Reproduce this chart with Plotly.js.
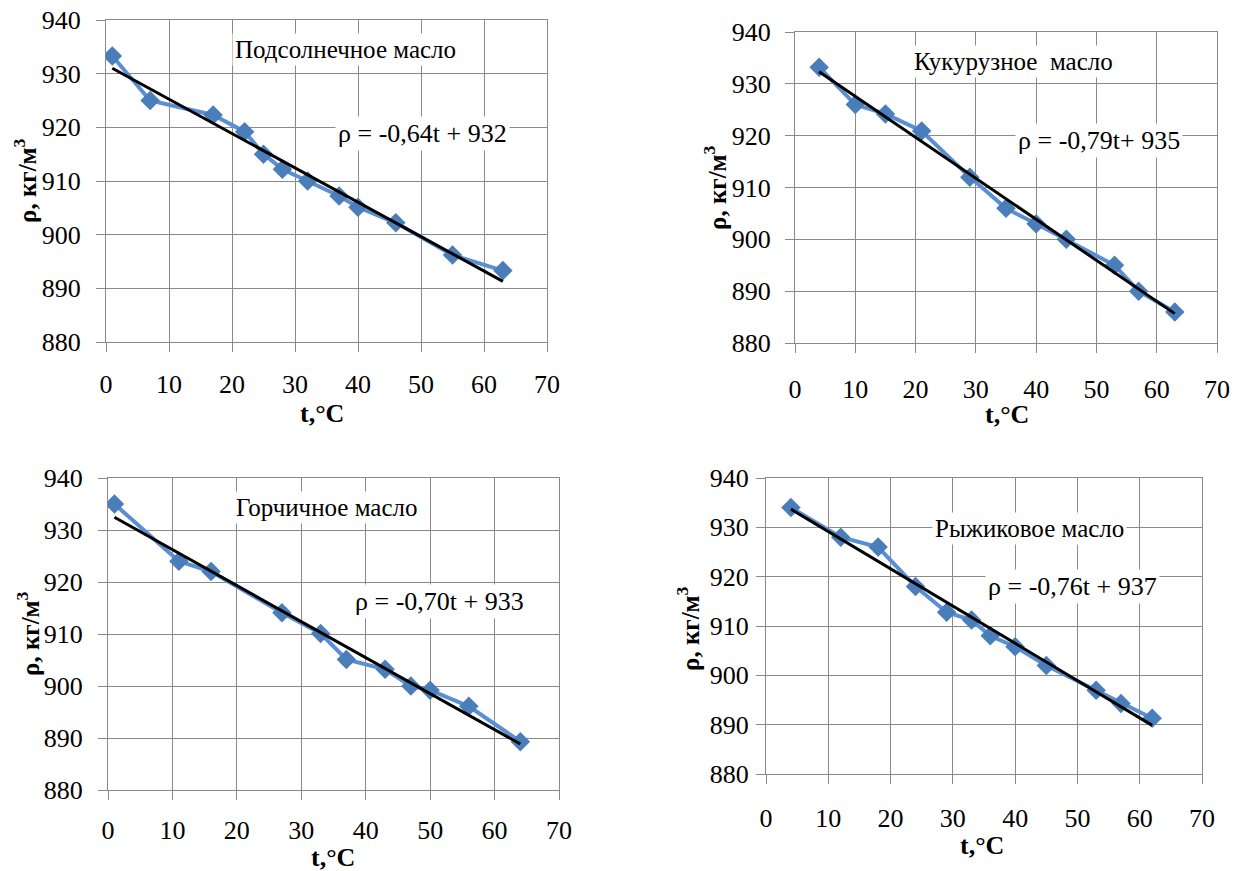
<!DOCTYPE html>
<html>
<head>
<meta charset="utf-8">
<script src="https://cdn.plot.ly/plotly-3.0.1.min.js"></script>
<style>html,body{margin:0;padding:0;background:#fff;}#chart{width:1241px;height:871px;}</style>
</head>
<body>
<div id="chart"></div>
<script>
// ---- data ----
const oilNames = ["Подсолнечное масло", "Кукурузное  масло", "Горчичное масло", "Рыжиковое масло"];
const equations = ["ρ = -0,64t + 932", "ρ = -0,79t+ 935", "ρ = -0,70t + 933", "ρ = -0,76t + 937"];
const xTitle = "t,°C";
const yTitle = "ρ, кг/м<sup>3</sup>";

const tSunflower = [1, 7, 17, 22, 25, 28, 32, 37, 40, 46, 55, 63];
const rhoSunflower = [933.3, 925, 922.3, 919.2, 915, 912.2, 910, 907.2, 905.1, 902.2, 896.2, 893.3];

const tCorn = [4, 10, 15, 21, 29, 35, 40, 45, 53, 57, 63];
const rhoCorn = [933.2, 926, 924.2, 920.9, 912, 906, 903, 900, 895, 890, 886];

const tMustard = [1, 11, 16, 27, 33, 37, 43, 47, 50, 56, 64];
const rhoMustard = [935, 924, 922, 914.1, 910.1, 905.1, 903.2, 900, 899.2, 896.1, 889.3];

const tCamelina = [4, 12, 18, 24, 29, 33, 36, 40, 45, 53, 57, 62];
const rhoCamelina = [934, 928, 926, 918, 912.8, 911.2, 908, 905.8, 902, 897, 894.3, 891.3];

const xTicks = [0, 10, 20, 30, 40, 50, 60, 70];
const yTicks = [880, 890, 900, 910, 920, 930, 940];

// ---- layout geometry (pixels) ----
const W = 1241, H = 871;
const boxes = [
  {l: 106, r: 547, t: 20, b: 342},
  {l: 795, r: 1217, t: 32, b: 343},
  {l: 108, r: 559, t: 478, b: 790},
  {l: 766, r: 1202, t: 478, b: 774}
];
const xStand = [10, 14, 8, 12];
const yStand = [10, 9, 10, 2];
const xTitlePx = [[322, 413], [1007, 415], [333, 857], [982, 845]];
const yTitlePx = [[25, 181], [715, 188], [28, 634], [688, 629]];
const titlePos = [[38.0, 934.5], [36.3, 934.3], [34.05, 934.4], [42.3, 929.7]];
const eqPos = [[50.2, 918.9], [50.4, 919.0], [51.4, 916.3], [49.2, 918.1]];
const titleSize = [25, 25, 25, 25];
const eqSize = [26, 26, 26, 26];

const series = [[tSunflower, rhoSunflower], [tCorn, rhoCorn], [tMustard, rhoMustard], [tCamelina, rhoCamelina]];

function linfit(x, y) {
  const n = x.length;
  let sx = 0, sy = 0, sxx = 0, sxy = 0;
  for (let i = 0; i < n; i++) { sx += x[i]; sy += y[i]; sxx += x[i]*x[i]; sxy += x[i]*y[i]; }
  const a = (n*sxy - sx*sy) / (n*sxx - sx*sx);
  const b = (sy - a*sx) / n;
  return [a, b];
}

const FONT = "Liberation Serif";
const GRID = "#8a8a8a";
const traces = [];
const layout = {
  width: W, height: H,
  margin: {l: 0, r: 0, t: 0, b: 0},
  paper_bgcolor: "#fff", plot_bgcolor: "#fff",
  showlegend: false,
  font: {family: FONT, size: 26, color: "#000"},
  annotations: []
};

series.forEach((s, i) => {
  const k = i === 0 ? "" : String(i + 1);
  const xa = "x" + k, ya = "y" + k;
  traces.push({
    type: "scatter", mode: "lines+markers", x: s[0], y: s[1],
    xaxis: xa, yaxis: ya,
    line: {color: "#5b8fd3", width: 4},
    marker: {symbol: "diamond", size: 15, color: "#4a7ebb"},
    hoverinfo: "skip"
  });
  const fit = linfit(s[0], s[1]);
  const x0 = s[0][0], x1 = s[0][s[0].length - 1];
  traces.push({
    type: "scatter", mode: "lines", x: [x0, x1], y: [fit[0]*x0 + fit[1], fit[0]*x1 + fit[1]],
    xaxis: xa, yaxis: ya,
    line: {color: "#000", width: 3},
    hoverinfo: "skip"
  });
  const b = boxes[i];
  const axCommon = {
    showgrid: true, gridcolor: GRID, gridwidth: 1,
    showline: true, linecolor: GRID, linewidth: 1, mirror: true,
    ticks: "outside", ticklen: 9, tickcolor: GRID, tickwidth: 1,
    zeroline: false,
    tickfont: {family: FONT, size: 26, color: "#000"}
  };
  layout["xaxis" + k] = Object.assign({}, axCommon, {
    domain: [b.l / W, b.r / W], anchor: ya,
    range: [0, 70], tickvals: xTicks, ticktext: xTicks.map(String),
    ticklabelstandoff: xStand[i]
  });
  layout["yaxis" + k] = Object.assign({}, axCommon, {
    domain: [1 - b.b / H, 1 - b.t / H], anchor: xa,
    range: [880, 940], tickvals: yTicks, ticktext: yTicks.map(String),
    ticklabelstandoff: yStand[i]
  });
  layout.annotations.push({
    xref: "paper", yref: "paper", x: xTitlePx[i][0] / W, y: 1 - xTitlePx[i][1] / H,
    xanchor: "center", yanchor: "middle",
    text: "<b>" + xTitle + "</b>", showarrow: false,
    font: {family: FONT, size: 26, color: "#000"}
  });
  layout.annotations.push({
    xref: "paper", yref: "paper", x: yTitlePx[i][0] / W, y: 1 - yTitlePx[i][1] / H,
    xanchor: "center", yanchor: "middle", textangle: -90,
    text: "<b>" + yTitle + "</b>", showarrow: false,
    font: {family: FONT, size: 25, color: "#000"}
  });
  layout.annotations.push({
    xref: xa, yref: ya, x: titlePos[i][0], y: titlePos[i][1],
    text: oilNames[i], showarrow: false, bgcolor: "#fff", borderpad: 2,
    font: {family: FONT, size: titleSize[i], color: "#000"}
  });
  layout.annotations.push({
    xref: xa, yref: ya, x: eqPos[i][0], y: eqPos[i][1],
    text: equations[i], showarrow: false, bgcolor: "#fff", borderpad: 2,
    font: {family: FONT, size: eqSize[i], color: "#000"}
  });
});

Plotly.newPlot("chart", traces, layout, {displayModeBar: false, staticPlot: true});
</script>
</body>
</html>
